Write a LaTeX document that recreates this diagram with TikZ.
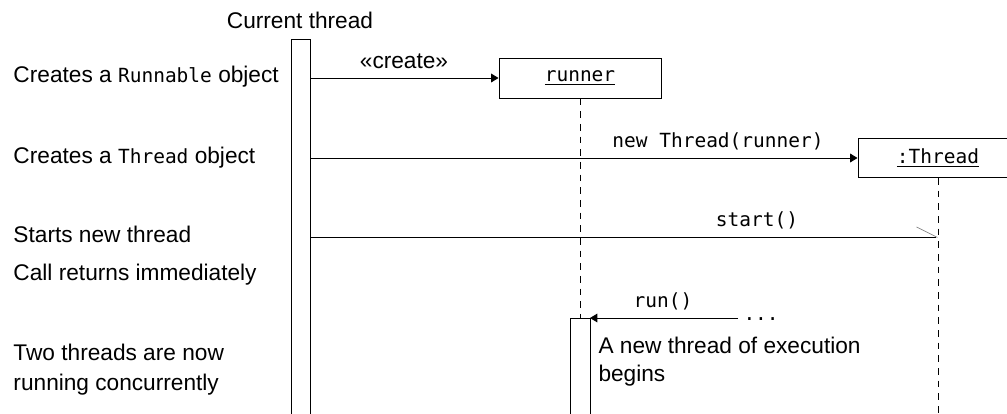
\documentclass[tikz,border=0pt]{standalone}
\usepackage{fontspec}
\setmainfont{Liberation Sans}
\newfontfamily\codefont{DejaVu Sans Mono}[Scale=0.86]
\usepackage{tikz}
\usetikzlibrary{arrows.meta}
\newcommand{\code}[1]{{\codefont #1}}

\begin{document}
\begin{tikzpicture}[x=0.75pt,y=-0.75pt,line width=0.75pt,
  lbl/.style={inner sep=0pt,font=\fontsize{17}{20}\selectfont},
  obj/.style={draw,fill=white,inner sep=0pt,font=\fontsize{17}{20}\selectfont},
  act/.style={draw,fill=white},
  life/.style={dash pattern=on 5pt off 4.5pt},
  msg/.style={-{Triangle[length=5.5pt,width=6.5pt]}},
  async/.style={-{Straight Barb[left,length=15pt,width=15pt,color=gray,line width=0.5pt]}}]
\clip (0,0) rectangle (1007,414);
% left column
\node (l1) [lbl,anchor=base west] at (13,82) {Creates a \code{Runnable} object};
\node (l2) [lbl,anchor=base west] at (13,163) {Creates a \code{Thread} object};
\node (l3) [lbl,anchor=base west] at (13,242) {Starts new thread};
\node (l4) [lbl,anchor=base west] at (13,280) {Call returns immediately};
\node (l5) [lbl,anchor=base west] at (13,360) {Two threads are now};
\node (l6) [lbl,anchor=base west] at (13,390) {running concurrently};
% current thread
\node (cur) [lbl,anchor=base] at (300,28) {Current thread};
\draw[act] (291,39) rectangle (310,420);
% objects and lifelines
\node (runner) [obj,minimum width=121.5pt,minimum height=30pt] at (580,78) {\underline{\code{runner}}};
\node (thread) [obj,minimum width=120pt,minimum height=29.25pt] at (938,158) {\underline{\code{:Thread}}};
\coordinate (rbar) at (580,318);
\draw[life] (runner.south) -- (rbar);
\draw[life] (thread.south) -- (938,420);
\draw[act] (570,318) rectangle (590,420);
% messages
\coordinate (m1) at (310,78);
\coordinate (m2) at (310,158);
\coordinate (m3) at (310,237);
\coordinate (s3) at (938,237);
\coordinate (m4) at (738,318);
\coordinate (s4) at (590,318);
\draw[msg] (m1) -- (runner.west);
\draw[msg] (m2) -- (thread.west);
\draw[async] (m3) -- (s3);
\draw[msg] (m4) -- (s4);
\node (t1) [lbl,anchor=base] at (404,68) {«create»};
\node (t2) [lbl,anchor=base] at (718,147) {\code{new Thread(runner)}};
\node (t3) [lbl,anchor=base] at (757,226) {\code{start()}};
\node (t4) [lbl,anchor=base] at (663,307) {\code{run()}};
\node (dots) [lbl,anchor=base west] at (743,320) {\code{...}};
\node (t5) [lbl,anchor=base west] at (598,353) {A new thread of execution};
\node (t6) [lbl,anchor=base west] at (598,381) {begins};
\end{tikzpicture}
\end{document}
